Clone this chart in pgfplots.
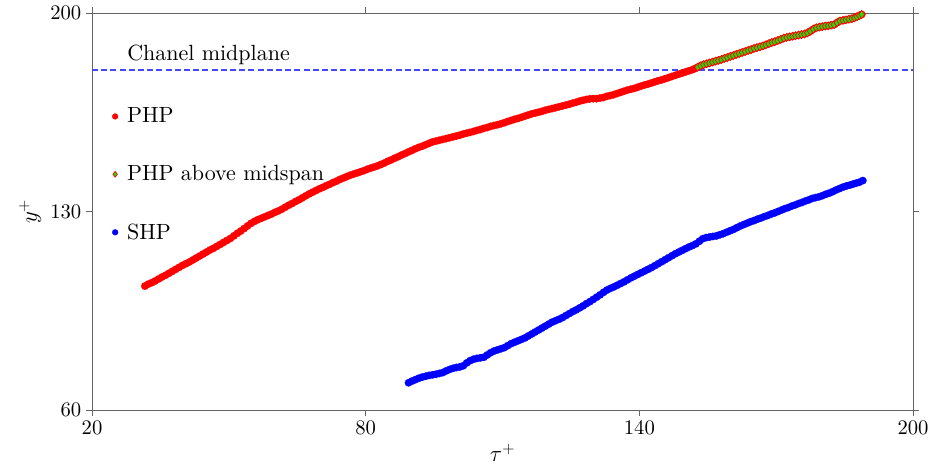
\documentclass[border=0pt]{standalone}
\usepackage{fontspec}
\setmainfont{lmroman10-regular}[Extension=.otf]
\usepackage{pgfplots}
\usepackage{pgfplotstable}
\pgfplotsset{compat=1.18}
\definecolor{limegr}{RGB}{40,220,0}
\definecolor{axgray}{RGB}{100,100,100}
\definecolor{midblue}{RGB}{70,70,255}

\pgfplotstableread{
x y
31.6 103.7
32.35 104.4
33.1 104.9
33.85 105.5
34.6 106.2
35.35 106.9
36.1 107.5
36.85 108.2
37.6 108.9
38.35 109.6
39.1 110.3
39.85 111.0
40.6 111.6
41.35 112.2
42.1 112.9
42.85 113.6
43.6 114.3
44.35 115.0
45.1 115.7
45.85 116.4
46.6 117.0
47.35 117.7
48.1 118.4
48.85 119.1
49.6 119.8
50.35 120.5
51.1 121.4
51.85 122.3
52.6 123.1
53.35 124.0
54.1 124.9
54.85 125.8
55.6 126.5
56.35 127.1
57.1 127.6
57.85 128.1
58.6 128.6
59.35 129.1
60.1 129.7
60.85 130.2
61.6 130.8
62.35 131.5
63.1 132.2
63.85 132.8
64.6 133.5
65.35 134.1
66.1 134.8
66.85 135.5
67.6 136.2
68.35 136.8
69.1 137.4
69.85 138.0
70.6 138.5
71.35 139.1
72.1 139.6
72.85 140.2
73.6 140.7
74.35 141.3
75.1 141.8
75.85 142.3
76.6 142.8
77.35 143.2
78.1 143.6
78.85 144.0
79.6 144.4
80.35 144.9
81.1 145.3
81.85 145.7
82.6 146.1
83.35 146.6
84.1 147.1
84.85 147.7
85.6 148.2
86.35 148.8
87.1 149.3
87.85 149.9
88.6 150.4
89.35 151.0
90.1 151.5
90.85 152.1
91.6 152.6
92.35 153.0
93.1 153.5
93.85 154.0
94.6 154.5
95.35 154.8
96.1 155.1
96.85 155.4
97.6 155.7
98.35 156.0
99.1 156.3
99.85 156.6
100.6 156.9
101.35 157.3
102.1 157.6
102.85 157.9
103.6 158.2
104.35 158.6
105.1 158.9
105.85 159.3
106.6 159.6
107.35 160.0
108.1 160.3
108.85 160.6
109.6 160.9
110.35 161.3
111.1 161.7
111.85 162.1
112.6 162.5
113.35 162.8
114.1 163.2
114.85 163.6
115.6 164.0
116.35 164.4
117.1 164.7
117.85 165.0
118.6 165.3
119.35 165.7
120.1 166.0
120.85 166.3
121.6 166.6
122.35 166.9
123.1 167.2
123.85 167.5
124.6 167.8
125.35 168.2
126.1 168.5
126.85 168.9
127.6 169.2
128.35 169.5
129.1 169.7
129.85 169.8
130.6 169.8
131.35 170.0
132.1 170.2
132.85 170.6
133.6 170.9
134.35 171.2
135.1 171.6
135.85 172.0
136.6 172.4
137.35 172.8
138.1 173.1
138.85 173.4
139.6 173.8
140.35 174.2
141.1 174.6
141.85 174.9
142.6 175.3
143.35 175.7
144.1 176.1
144.85 176.4
145.6 176.8
146.35 177.2
147.1 177.6
147.85 178.0
148.6 178.4
149.35 178.8
150.1 179.2
150.85 179.6
151.6 180.0
152.2 180.4
}\phpdata

\pgfplotstableread{
x y
152.8 180.9
153.45 181.4
154.1 181.8
154.75 182.1
155.4 182.4
156.05 182.7
156.7 183.0
157.35 183.3
158.0 183.6
158.65 184.0
159.3 184.3
159.95 184.7
160.6 185.0
161.25 185.4
161.9 185.7
162.55 186.1
163.2 186.4
163.85 186.8
164.5 187.1
165.15 187.5
165.8 187.8
166.45 188.1
167.1 188.4
167.75 188.8
168.4 189.2
169.05 189.6
169.7 189.9
170.35 190.3
171.0 190.7
171.65 191.1
172.3 191.4
172.95 191.6
173.6 191.8
174.25 192.0
174.9 192.2
175.55 192.4
176.2 192.6
176.85 193.0
177.5 193.6
178.15 194.3
178.8 194.8
179.45 195.0
180.1 195.2
180.75 195.4
181.4 195.5
182.05 195.7
182.7 195.9
183.35 196.6
184.0 197.2
184.65 197.4
185.3 197.6
185.95 197.8
186.6 198.0
187.15 198.3
187.7 198.7
188.25 199.1
188.75 199.5
}\phpabove

\pgfplotstableread{
x y
89.4 69.6
90.15 70.2
90.9 70.7
91.65 71.2
92.4 71.6
93.15 71.9
93.9 72.2
94.65 72.4
95.4 72.6
96.15 72.9
96.9 73.2
97.65 73.8
98.4 74.3
99.15 74.7
99.9 75.0
100.65 75.2
101.4 75.6
102.15 76.6
102.9 77.4
103.65 77.9
104.4 78.2
105.15 78.4
105.9 78.6
106.65 79.4
107.4 80.2
108.15 80.8
108.9 81.2
109.65 81.6
110.4 82.0
111.15 82.7
111.9 83.4
112.65 83.9
113.4 84.4
114.15 84.9
114.9 85.4
115.65 86.1
116.4 86.8
117.15 87.5
117.9 88.2
118.65 88.9
119.4 89.6
120.15 90.3
120.9 91.0
121.65 91.5
122.4 92.0
123.15 92.6
123.9 93.3
124.65 94.0
125.4 94.7
126.15 95.3
126.9 96.0
127.65 96.7
128.4 97.5
129.15 98.2
129.9 99.0
130.65 99.8
131.4 100.6
132.15 101.5
132.9 102.3
133.65 102.9
134.4 103.4
135.15 104.0
135.9 104.6
136.65 105.2
137.4 105.9
138.15 106.6
138.9 107.2
139.65 107.8
140.4 108.4
141.15 109.0
141.9 109.6
142.65 110.2
143.4 110.9
144.15 111.6
144.9 112.3
145.65 113.0
146.4 113.7
147.15 114.4
147.9 115.1
148.65 115.7
149.4 116.3
150.15 116.9
150.9 117.5
151.65 118.0
152.4 118.6
153.15 119.5
153.9 120.4
154.65 120.8
155.4 121.0
156.15 121.2
156.9 121.4
157.65 121.8
158.4 122.2
159.15 122.7
159.9 123.2
160.65 123.7
161.4 124.3
162.15 124.9
162.9 125.4
163.65 125.9
164.4 126.4
165.15 126.8
165.9 127.3
166.65 127.7
167.4 128.2
168.15 128.6
168.9 129.1
169.65 129.5
170.4 130.0
171.15 130.5
171.9 131.0
172.65 131.4
173.4 131.9
174.15 132.3
174.9 132.8
175.65 133.2
176.4 133.7
177.15 134.1
177.9 134.6
178.65 134.9
179.4 135.2
180.15 135.6
180.9 136.1
181.65 136.5
182.4 137.0
183.15 137.6
183.9 138.1
184.65 138.6
185.4 139.0
186.15 139.3
186.9 139.7
187.55 140.0
188.2 140.3
189.0 140.9
}\shpdata

\begin{document}
\begin{tikzpicture}
\begin{axis}[
  scale only axis,
  width=615.75pt, height=297.75pt,
  xmin=20, xmax=200, ymin=60, ymax=200,
  xtick={20,80,140,200}, ytick={60,130,200},
  tick align=outside,
  major tick length=4.5pt,
  axis line style={draw=axgray},
  every tick/.style={draw=axgray},
  /pgf/number format/assume math mode=true,
  tick label style={font=\fontsize{15.5}{18}\selectfont},
  xlabel={$\tau^{+}$},
  ylabel={$y^{+}$},
  label style={font=\fontsize{16.5}{19}\selectfont},
  legend style={draw=none, fill=none, at={(axis cs:23.5,168.5)}, anchor=north west,
    font=\fontsize{16.5}{19}\selectfont, row sep=26.5pt,
    legend cell align=left},
  legend image code/.code={\path (0.36cm,0cm); \draw[mark repeat=2,mark phase=2,#1,mark size=2.2pt] plot coordinates {(0cm,0cm) (0.12cm,0cm) (0.24cm,0cm)};},
]
\addplot[only marks, mark=*, mark size=2.8pt, mark options={draw=red, fill=red, line width=0.2pt}] table {\phpdata};
\addlegendentry{PHP}
\addplot[forget plot, draw=midblue, line width=1.3pt, dash pattern=on 4.5pt off 2.4pt, mark=none] coordinates {(20,180) (200,180)};
\addplot[forget plot, only marks, mark=*, mark size=2.8pt, mark options={draw=red, fill=red, line width=0.2pt}] table {\phpabove};
\addplot[only marks, mark=diamond*, mark size=3.0pt, mark options={draw=red, fill=limegr, line width=0.5pt}] table {\phpabove};
\addlegendentry{PHP above midspan}
\addplot[only marks, mark=*, mark size=2.8pt, mark options={draw=blue, fill=blue, line width=0.2pt}] table {\shpdata};
\addlegendentry{SHP}
\node[anchor=base west, inner sep=0pt, font=\fontsize{16.5}{19}\selectfont] at (axis cs:27.67,183.4) {Chanel midplane};
\end{axis}
\pgfresetboundingbox
\path[use as bounding box] (current axis.south west) ++(-69pt,-44.25pt) rectangle ++(700.5pt,351.75pt);
\end{tikzpicture}
\end{document}
